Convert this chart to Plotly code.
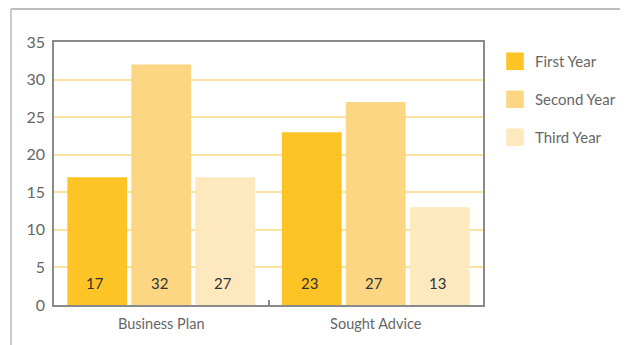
import plotly.graph_objects as go

categories = ["Business Plan", "Sought Advice"]
series_names = ["First Year", "Second Year", "Third Year"]
first_year = [17, 23]
second_year = [32, 27]
third_year = [17, 13]
first_labels = ["17", "23"]
second_labels = ["32", "27"]
third_labels = ["27", "13"]
colors = ["#FEC324", "#FCD682", "#FEE8BE"]
y_ticks = [0, 5, 10, 15, 20, 25, 30, 35]

values = [first_year, second_year, third_year]
labels = [first_labels, second_labels, third_labels]

FONT = "Lato"
# page body has an 8px margin: figure drawn at (8, 8)
OFF = 8
W, H = 628 - OFF, 345 - OFF
L, R, T, B = 54 - OFF, 483 - OFF, 42 - OFF, 305 - OFF
pw, ph = R - L, B - T
BARGAP = 0.105
slot = (pw / len(categories)) * (1 - BARGAP) / len(series_names)

fig = go.Figure()
annotations = []
for i, (name, vals, labs, col) in enumerate(zip(series_names, values, labels, colors)):
    fig.add_trace(go.Bar(
        x=categories, y=vals, name=name, showlegend=False,
        marker=dict(color=col, line=dict(width=0)),
        hoverinfo="skip",
    ))
    for cat, lab in zip(categories, labs):
        annotations.append(dict(
            x=cat, y=0, xref="x", yref="y", text=lab, showarrow=False,
            xanchor="center", yanchor="middle",
            xshift=(i - (len(series_names) - 1) / 2) * slot - 2, yshift=22,
            font=dict(family=FONT, size=15, color="#333333"),
        ))
for name, col in zip(series_names, colors):
    fig.add_trace(go.Scatter(
        x=[None], y=[None], mode="markers", name=name,
        legendgroup=name,
        marker=dict(symbol="square", size=18, color=col, line=dict(width=1.5, color=col)),
    ))

fig.update_layout(
    width=W, height=H,
    margin=dict(l=L, r=W - R, t=T, b=H - B, pad=0, autoexpand=False),
    paper_bgcolor="white", plot_bgcolor="white",
    barmode="group", bargap=BARGAP, bargroupgap=0.065,
    font=dict(family=FONT, color="#666666", size=13),
    annotations=annotations,
    legend=dict(
        x=(495 - OFF - L) / pw, y=(B - (45 - OFF)) / ph, xanchor="left", yanchor="top",
        traceorder="grouped", tracegroupgap=15.5,
        font=dict(family=FONT, size=15, color="#666666"),
        bgcolor="rgba(0,0,0,0)", itemsizing="trace",
    ),
    xaxis=dict(
        type="category", showline=True, mirror=True, linecolor="#8a8a8a", linewidth=1.5,
        ticks="inside", tickson="boundaries", ticklen=5, tickcolor="#8a8a8a", tickwidth=1.5,
        tickfont=dict(family=FONT, size=14.5, color="#666666"),
        ticklabelstandoff=5, showgrid=False, zeroline=False, automargin=False,
    ),
    yaxis=dict(
        range=[0, 35], tickvals=y_ticks, showline=True, mirror=True,
        linecolor="#8a8a8a", linewidth=1.5, ticks="",
        showgrid=True, gridcolor="#FCE2A0", gridwidth=1.5, zeroline=False,
        tickfont=dict(family=FONT, size=16, color="#666666"),
        ticklabelstandoff=4, automargin=False,
    ),
    shapes=[
        dict(type="line", xref="paper", yref="paper",
             x0=(11 - OFF - L) / pw, x1=(W + 5 - L) / pw,
             y0=(B - (9 - OFF)) / ph, y1=(B - (9 - OFF)) / ph,
             line=dict(color="#a8a8a8", width=1.5), layer="below"),
        dict(type="line", xref="paper", yref="paper",
             x0=(11 - OFF - L) / pw, x1=(11 - OFF - L) / pw,
             y0=(B - (9 - OFF)) / ph, y1=(B - H - 10) / ph,
             line=dict(color="#cccccc", width=2), layer="below"),
    ],
)

fig.write_html("out.html")
